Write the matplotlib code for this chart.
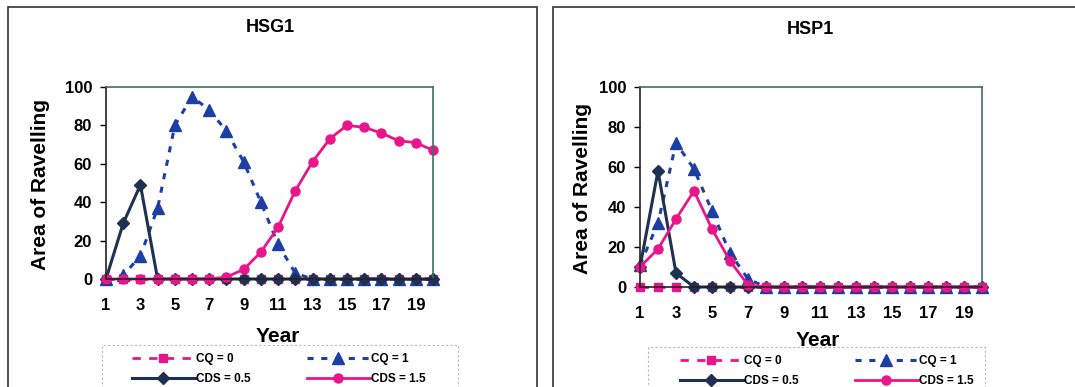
import matplotlib.pyplot as plt
from matplotlib.patches import Rectangle

years = list(range(1, 21))

# HSG1
hsg1_cq0 = [0] * 20
hsg1_cq1 = [0, 2, 12, 37, 80, 95, 88, 77, 61, 40, 18, 3, 0, 0, 0, 0, 0, 0, 0, 0]
hsg1_cds05 = [0, 29, 49, 0, 0, 0, 0, 0, 0, 0, 0, 0, 0, 0, 0, 0, 0, 0, 0, 0]
hsg1_cds15 = [0, 0, 0, 0, 0, 0, 0, 1, 5, 14, 27, 46, 61, 73, 80, 79, 76, 72, 71, 67]

# HSP1
hsp1_cq0 = [0] * 20
hsp1_cq1 = [11, 32, 72, 59, 38, 17, 4, 0, 0, 0, 0, 0, 0, 0, 0, 0, 0, 0, 0, 0]
hsp1_cds05 = [10, 58, 7, 0, 0, 0, 0, 0, 0, 0, 0, 0, 0, 0, 0, 0, 0, 0, 0, 0]
hsp1_cds15 = [10, 19, 34, 48, 29, 13, 1, 0, 0, 0, 0, 0, 0, 0, 0, 0, 0, 0, 0, 0]

PINK = "#e8168a"
BLUE = "#1d3fa3"
NAVY = "#1e3150"
FRAME = "#3f6e66"
FONT = "Liberation Sans"

W, H = 1075, 387


def fx(px):
    return px / W


def fy(py):
    return 1 - py / H


fig = plt.figure(figsize=(10.75, 3.87), dpi=100)
fig.patch.set_facecolor("white")

panels = [
    ("HSG1", (hsg1_cq0, hsg1_cq1, hsg1_cds05, hsg1_cds15), (106, 433, 87, 279), 8, 537, 270, 28, 41, 337,
     (102, 458, 345, 132)),
    ("HSP1", (hsp1_cq0, hsp1_cq1, hsp1_cds05, hsp1_cds15), (640, 982, 87, 287), 553, 1100, 810, 30, 583, 340,
     (648, 985, 347, 680)),
]

for title, series, box, fl, fr, tx, ty, ylx, yy, leg in panels:
    cq0, cq1, cds05, cds15 = series
    # outer chart frame
    fig.patches.append(Rectangle((fx(fl), fy(420)), fx(fr) - fx(fl), fy(7) - fy(420),
                                 transform=fig.transFigure, fill=False, edgecolor="#333333",
                                 linewidth=1.2))
    l, r, t, b = box
    ax = fig.add_axes([fx(l), fy(b), fx(r) - fx(l), fy(t) - fy(b)])
    ax.plot(years, cq0, color=PINK, linestyle=(0, (3, 3)), linewidth=2, marker="s", markersize=6,
            clip_on=False, label="CQ = 0")
    ax.plot(years, cq1, color=BLUE, linestyle=(0, (2, 2.5)), linewidth=2.2, marker="^", markersize=8,
            clip_on=False, label="CQ = 1")
    ax.plot(years, cds05, color=NAVY, linewidth=2.2, marker="D", markersize=6,
            clip_on=False, label="CDS = 0.5")
    ax.plot(years, cds15, color=PINK, linewidth=2, marker="o", markersize=6.5,
            clip_on=False, label="CDS = 1.5")
    ax.set_xlim(1, 20)
    ax.set_ylim(0, 100)
    ax.set_xticks(years)
    ax.set_xticklabels([str(y) if y % 2 else "" for y in years])
    ax.set_yticks([0, 20, 40, 60, 80, 100])
    ax.tick_params(axis="x", length=0, pad=14)
    ax.tick_params(axis="y", length=4, width=1, direction="out", pad=6)
    for lab in ax.get_xticklabels() + ax.get_yticklabels():
        lab.set_fontfamily(FONT)
        lab.set_fontweight("bold")
        lab.set_fontsize(12)
    for side in ("top", "right"):
        ax.spines[side].set_color(FRAME)
        ax.spines[side].set_linewidth(1.2)
    for side in ("left", "bottom"):
        ax.spines[side].set_color("#222222")
        ax.spines[side].set_linewidth(1.2)

    fig.text(fx(tx), fy(ty), title, ha="center", va="center", fontfamily=FONT,
             fontweight="bold", fontsize=13)
    fig.text(fx(ylx), fy((t + b) / 2 + 2), "Area of Ravelling", rotation=90, ha="center",
             va="center", fontfamily=FONT, fontweight="bold", fontsize=15)
    fig.text(fx(tx + 8), fy(yy), "Year", ha="center", va="center", fontfamily=FONT,
             fontweight="bold", fontsize=15)

    # legend: dashed box drawn separately, entries placed inside it
    lx0, lx1, lt, hx = leg
    fig.patches.append(Rectangle((fx(lx0), fy(420)), fx(lx1) - fx(lx0), fy(lt) - fy(420),
                                 transform=fig.transFigure, fill=False, edgecolor="#b8b8b8",
                                 linestyle=(0, (2, 2)), linewidth=0.8))
    handles, labels = ax.get_legend_handles_labels()
    order = [0, 2, 1, 3]
    fig.legend([handles[i] for i in order], [labels[i] for i in order],
               loc="upper left", bbox_to_anchor=(fx(hx), fy(lt + 8)),
               ncol=2, handlelength=5.3, handletextpad=0.1, borderpad=0, borderaxespad=0,
               labelspacing=0.7, columnspacing=4.8,
               prop={"family": FONT, "weight": "bold", "size": 8.5}, frameon=False)

fig.savefig("out.png", dpi=100)
